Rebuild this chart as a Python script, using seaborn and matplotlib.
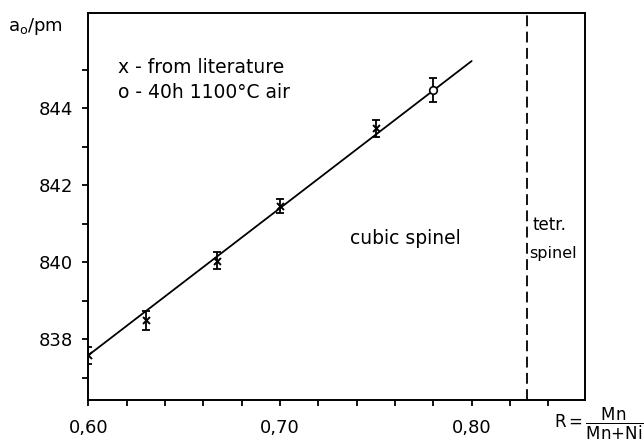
import numpy as np
import pandas as pd
import seaborn as sns
import matplotlib.pyplot as plt
from matplotlib.ticker import MultipleLocator, FixedLocator, FuncFormatter

# Data
lit_R = [0.600, 0.630, 0.667, 0.700, 0.750]
lit_a = [837.58, 838.49, 840.03, 841.45, 843.48]
lit_err = [0.22, 0.25, 0.22, 0.18, 0.22]

own_R = [0.780]
own_a = [844.47]
own_err = [0.32]

fit_R = [0.600, 0.800]
fit_a = [837.58, 845.22]

boundary_R = 0.829

y_major = [838, 840, 842, 844]
y_minor = [837, 839, 841, 843, 845]

sns.set_style("ticks")
plt.rcParams['font.family'] = ['DejaVu Sans']
plt.rcParams['text.color'] = 'black'

fig = plt.figure(figsize=(6.44, 4.44), dpi=100)
ax = fig.add_axes([0.137, 0.099, 0.771, 0.872])

lit = pd.DataFrame({"R": lit_R, "a": lit_a})
own = pd.DataFrame({"R": own_R, "a": own_a})
fit = pd.DataFrame({"R": fit_R, "a": fit_a})

sns.lineplot(data=fit, x="R", y="a", color="black", lw=1.3, ax=ax)
ax.errorbar(lit_R, lit_a, yerr=lit_err, fmt="none", ecolor="black",
            elinewidth=1.3, capsize=3, capthick=1.3)
ax.errorbar(own_R, own_a, yerr=own_err, fmt="none", ecolor="black",
            elinewidth=1.3, capsize=3, capthick=1.3)
sns.scatterplot(data=lit, x="R", y="a", marker="x", color="black", s=25,
                linewidth=1.4, ax=ax, zorder=5)
sns.scatterplot(data=own, x="R", y="a", marker="o", facecolor="white",
                edgecolor="black", s=30, linewidth=1.2, ax=ax, zorder=5)

ax.axvline(boundary_R, color="black", lw=1.3, ls=(0, (6, 3)))

ax.set_xlim(0.60, 0.859)
ax.set_ylim(836.42, 846.47)
ax.xaxis.set_major_locator(MultipleLocator(0.1))
ax.xaxis.set_minor_locator(MultipleLocator(0.02))
ax.yaxis.set_major_locator(FixedLocator(y_major))
ax.yaxis.set_minor_locator(FixedLocator(y_minor))
ax.xaxis.set_major_formatter(FuncFormatter(lambda v, p: f"{v:.2f}".replace(".", ",")))
ax.yaxis.set_major_formatter(FuncFormatter(lambda v, p: f"{v:.0f}"))
ax.tick_params(which="both", direction="out", length=4, width=1.3,
               labelsize=13, colors="black")
ax.tick_params(axis="x", pad=10)
ax.tick_params(axis="y", pad=7)
for sp in ax.spines.values():
    sp.set_linewidth(1.4)
    sp.set_color("black")
    sp.set_visible(True)
ax.set_xlabel("")
ax.set_ylabel("")

fig.text(0.012, 0.94, r"a$_\mathrm{o}$/pm", fontsize=13, va="center")
ax.text(0.06, 0.86, "x - from literature", transform=ax.transAxes, fontsize=13.5, va="center")
ax.text(0.06, 0.795, "o - 40h 1100°C air", transform=ax.transAxes, fontsize=13.5, va="center")
ax.text(0.7365, 840.62, "cubic spinel", fontsize=13.5, va="center")
ax.text(0.8315, 840.96, "tetr.", fontsize=12, va="center")
ax.text(0.8300, 840.23, "spinel", fontsize=11.5, va="center")
fig.text(0.860, 0.045, r"$\mathrm{R{=}}\dfrac{\mathrm{Mn}}{\mathrm{Mn{+}Ni}}$", fontsize=12, va="center")

fig.savefig("out.png", dpi=100)
